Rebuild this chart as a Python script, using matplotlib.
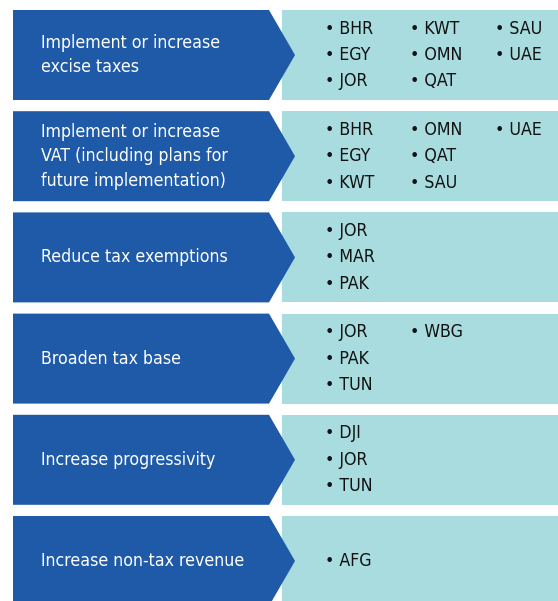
import matplotlib.pyplot as plt
from matplotlib.patches import Polygon, Rectangle

# categories (left arrows) and countries listed for each
categories = [
    'Implement or increase\nexcise taxes',
    'Implement or increase\nVAT (including plans for\nfuture implementation)',
    'Reduce tax exemptions',
    'Broaden tax base',
    'Increase progressivity',
    'Increase non-tax revenue',
]
countries = [
    ['BHR', 'EGY', 'JOR', 'KWT', 'OMN', 'QAT', 'SAU', 'UAE'],
    ['BHR', 'EGY', 'KWT', 'OMN', 'QAT', 'SAU', 'UAE'],
    ['JOR', 'MAR', 'PAK'],
    ['JOR', 'PAK', 'TUN', 'WBG'],
    ['DJI', 'JOR', 'TUN'],
    ['AFG'],
]

BLUE = '#1e5aa8'
TEAL = '#a8dcdf'

W, H = 558, 601
fig = plt.figure(figsize=(W / 100, H / 100), dpi=100)
ax = fig.add_axes([0, 0, 1, 1])
ax.set_xlim(0, W)
ax.set_ylim(H, 0)
ax.axis('off')

top0 = 10
pitch = 101.2
rh = 90
line = 26.5
col_x = [325, 410, 495]

for i, (cat, codes) in enumerate(zip(categories, countries)):
    top = top0 + i * pitch
    mid = top + rh / 2
    ax.add_patch(Rectangle((282, top), W - 282, rh, color=TEAL, lw=0))
    ax.add_patch(Polygon([(13, top), (269, top), (295, mid), (269, top + rh), (13, top + rh)],
                         closed=True, color=BLUE, lw=0))
    ax.text(41, mid, cat, color='white', fontsize=12.7, family='DejaVu Sans',
            stretch='condensed', va='center', ha='left', linespacing=1.45)
    nrows = min(3, len(codes))
    for j, c in enumerate(codes):
        r, k = j % 3, j // 3
        y = mid + (r - (nrows - 1) / 2) * line
        ax.text(col_x[k], y, '\u2022 ' + c, color='#111111', fontsize=12.7,
                family='DejaVu Sans', stretch='condensed', va='center', ha='left')

plt.savefig('out.png', dpi=100)
